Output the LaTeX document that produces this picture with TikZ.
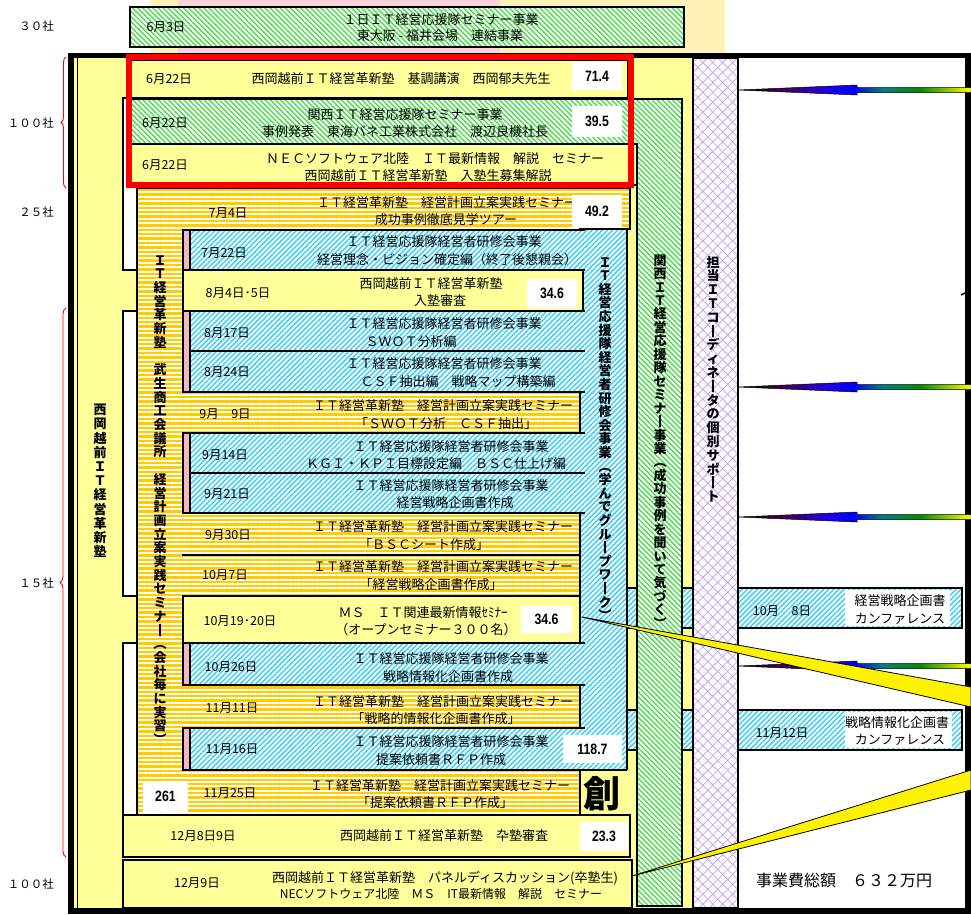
\documentclass[tikz,border=0pt]{standalone}
\usepackage{fontspec}
\setmainfont{Noto Sans CJK JP}
\newfontfamily\numfont{Liberation Sans}
\usetikzlibrary{patterns.meta,decorations.pathreplacing}
\definecolor{Yel}{HTML}{FFFF99}
\definecolor{Gold}{HTML}{FFCC00}
\definecolor{GrnL}{HTML}{4DDB4D}
\definecolor{CyanL}{HTML}{40CFF5}
\definecolor{Lav}{HTML}{C9A3F5}
\definecolor{PinkS}{HTML}{F2B5C4}
\definecolor{TopY}{HTML}{FFF2B8}
\definecolor{TopP}{HTML}{F8D3DA}
\definecolor{RedF}{HTML}{FF0000}
\pgfdeclarehorizontalshading{arrg}{100bp}{color(0bp)=(black); color(25bp)=(black); color(34bp)=(black!45!violet); color(44bp)=(blue!75!violet); color(50bp)=(blue); color(56bp)=(teal); color(64bp)=(green!55!black); color(75bp)=(yellow); color(100bp)=(yellow)}
\makeatletter
\newcommand\vtext[2]{\vbox{\offinterlineskip\@tfor\vc:=#2\do{\hbox to 1em{\hss\vrule height .88em depth .12em width 0pt\vc\hss}\vskip\dimexpr#1-1em\relax}}}
\makeatother
\begin{document}
\begin{tikzpicture}[x=1pt,y=-1pt,
  bx/.style={draw=black,line width=1.1pt},
  jt/.style={font=\fontsize{13}{17}\selectfont,inner sep=0pt},
  jts/.style={font=\fontsize{12}{16}\selectfont,inner sep=0pt},
  dt/.style={font=\fontsize{12.5}{15}\selectfont,inner sep=0pt},
  lbl/.style={font=\fontsize{11.5}{14}\selectfont,inner sep=0pt,anchor=east},
  vt/.style={font=\fontsize{13}{13}\selectfont\bfseries,inner sep=0pt,anchor=north},
  val/.style={fill=white,inner sep=0pt,font=\numfont\bfseries\fontsize{15}{15}\selectfont},
  ghatch/.style={preaction={fill=white},pattern={Lines[angle=-45,distance=3.6pt,line width=1.4pt]},pattern color=GrnL},
  chatch/.style={preaction={fill=white},pattern={Lines[angle=45,distance=3.6pt,line width=1.5pt]},pattern color=CyanL},
  ostripe/.style={preaction={fill=Gold},pattern={Lines[angle=0,distance=4.4pt,line width=1.9pt]},pattern color=white},
  lav/.style={preaction={fill=white},preaction={pattern={Lines[angle=45,distance=7pt,line width=0.8pt]},pattern color=Lav},pattern={Lines[angle=-45,distance=7pt,line width=0.8pt]},pattern color=Lav},
  wedge/.style={fill=yellow,draw=black,line width=0.8pt,line join=round}
]
\useasboundingbox (0,0) rectangle (971,914);
% ---------- top band
\fill[TopY] (150,0) rectangle (725,53);
\fill[TopP] (178,0) rectangle (500,53);
\path[ghatch,bx] (130,7) rectangle (684,47);
\node[dt] (t0) at (166,27) {6月3日};
\node[jt] (t1) at (441,20) {１日ＩＴ経営応援隊セミナー事業};
\node[jt] (t2) at (440,36) {東大阪 - 福井会場　連結事業};
% ---------- panels
\fill[Yel] (74,58) rectangle (693,908);
\fill[white] (738,58) rectangle (966,908);
\path[chatch,bx] (627,588) rectangle (962,628);
\path[chatch,bx] (627,710) rectangle (962,750);
\fill[white] (845,590) rectangle (950,626);
\fill[white] (845,712) rectangle (952,748);
\path[lav,bx] (693,58) rectangle (738,908);
% white strips
\path[fill=white,bx] (123,98) rectangle (137,270);
\path[fill=white,bx] (123,311) rectangle (137,596);
\path[fill=white,bx] (123,643) rectangle (137,815);
% orange base
\path[ostripe,bx] (137,188) -- (630,188) -- (630,229) -- (580,229) -- (580,815) -- (137,815) -- cycle;
% cyan column
\path[chatch] (580,229) rectangle (627,768);
\draw[bx] (580,229) -- (630,229);
% cyan boxes
\foreach \ya/\yb in {230/270,311/351,351/392,433/473,473/513,643/685}{
  \path[chatch] (190,\ya) rectangle (627,\yb);
  \draw[bx] (585,\ya) -- (190,\ya) -- (190,\yb) -- (585,\yb);
}
\path[chatch] (190,728) rectangle (627,770);
\draw[bx] (585,728) -- (190,728) -- (190,770) -- (627,770);
\draw[bx] (627,229) -- (627,770);
\foreach \ya/\yb in {230/270,311/392,433/513,643/685,728/770}
  \path[fill=PinkS,bx] (183,\ya) rectangle (190,\yb);
% orange rows
\foreach \ya/\yb in {392/433,513/555,555/596,685/728}
  \draw[bx] (183,\ya) -- (580,\ya) -- (580,\yb) -- (183,\yb);
\draw[bx] (183,770) -- (580,770) -- (580,815);
\draw[line width=2.5pt] (182,555) -- (580,555);
% yellow boxes
\path[fill=Yel,bx] (183,270) rectangle (583,311);
\path[fill=Yel,bx] (183,596) rectangle (580,643);
\path[fill=Yel,bx] (130,60) rectangle (628,98);
\path[ghatch,bx] (130,99) -- (682,99) -- (682,906) -- (637,906) -- (637,144) -- (130,144) -- cycle;
\path[fill=Yel,bx] (130,144) rectangle (637,185);
\path[fill=Yel,bx] (123,815) rectangle (630,857);
\path[fill=Yel,bx] (123,860) rectangle (632,908);
% big character
\begin{scope}
\clip (583,769) rectangle (627,815);
\node[font=\bfseries\fontsize{37}{37}\selectfont,inner sep=0pt] (sou) at (602,794) {創};
\end{scope}
% ---------- frame
\draw[line width=5.5pt] (71,55.5) rectangle (968,911);
\draw[line width=0.8pt] (77,58) -- (77,908);
% ---------- vertical texts
\node[vt] (vl) at (100,403) {\vtext{14.2pt}{西岡越前ＩＴ経営革新塾}};
\node[vt] (vo) at (160,253.5) {\vtext{13.7pt}{ＩＴ経営革新塾　武生商工会議所　経営計画立案実践セミナ丨︵会社毎に実習︶}};
\node[vt] (vc) at (605,255.5) {\vtext{13.6pt}{ＩＴ経営応援隊経営者研修会事業︵学んでグル丨プワ丨ク︶}};
\node[vt] (vg) at (660,253.5) {\vtext{13.45pt}{関西ＩＴ経営応援隊セミナ丨事業︵成功事例を聞いて気づく︶}};
\node[vt] (vv) at (713,255.5) {\vtext{13.8pt}{担当ＩＴコ丨ディネ丨タの個別サポ丨ト}};
% ---------- row texts
\node[dt] (ad) at (169,79) {6月22日};
\node[jt] (a1) at (401,79) {西岡越前ＩＴ経営革新塾　基調講演　西岡郁夫先生};
\node[dt] (bd) at (165,123) {6月22日};
\node[jt] (b1) at (405,115) {関西ＩＴ経営応援隊セミナー事業};
\node[jt] (b2) at (405,132) {事例発表　東海バネ工業株式会社　渡辺良機社長};
\node[dt] (cd) at (165,165) {6月22日};
\node[jt] (c1) at (435,159) {ＮＥＣソフトウェア北陸　ＩＴ最新情報　解説　セミナー};
\node[jt] (c2) at (428,176) {西岡越前ＩＴ経営革新塾　入塾生募集解説};
\node[dt] (dd) at (228,213) {7月4日};
\node[jt] (d1) at (447,203) {ＩＴ経営革新塾　経営計画立案実践セミナー};
\node[jt] (d2) at (446,220) {成功事例徹底見学ツアー};
\node[dt] (ed) at (224,253) {7月22日};
\node[jt] (e1) at (444,242) {ＩＴ経営応援隊経営者研修会事業};
\node[jt] (e2) at (447,260) {経営理念・ビジョン確定編（終了後懇親会）};
\node[dt] (fd) at (238,293) {8月4日･5日};
\node[jt] (f1) at (431,284) {西岡越前ＩＴ経営革新塾};
\node[jt] (f2) at (440,301) {入塾審査};
\node[dt] (gd) at (227,333) {8月17日};
\node[jt] (g1) at (444,324) {ＩＴ経営応援隊経営者研修会事業};
\node[jt] (g2) at (411,342) {ＳＷＯＴ分析編};
\node[dt] (hd) at (227,372) {8月24日};
\node[jt] (h1) at (444,364) {ＩＴ経営応援隊経営者研修会事業};
\node[jt] (h2) at (458,382) {ＣＳＦ抽出編　戦略マップ構築編};
\node[dt] (id) at (225,414) {9月　9日};
\node[jt] (i1) at (443,406) {ＩＴ経営革新塾　経営計画立案実践セミナー};
\node[jt] (i2) at (446,424) {「ＳＷＯＴ分析　ＣＳＦ抽出」};
\node[dt] (jd) at (225,455) {9月14日};
\node[jt] (j1) at (451,447) {ＩＴ経営応援隊経営者研修会事業};
\node[jt] (j2) at (436,464) {ＫＧＩ・ＫＰＩ目標設定編　ＢＳＣ仕上げ編};
\node[dt] (kd) at (227,494) {9月21日};
\node[jt] (k1) at (451,486) {ＩＴ経営応援隊経営者研修会事業};
\node[jt] (k2) at (455,503) {経営戦略企画書作成};
\node[dt] (ld) at (228,535) {9月30日};
\node[jt] (l1) at (443,527) {ＩＴ経営革新塾　経営計画立案実践セミナー};
\node[jt] (l2) at (424,545) {「ＢＳＣシート作成」};
\node[dt] (md) at (225,575) {10月7日};
\node[jt] (m1) at (443,567) {ＩＴ経営革新塾　経営計画立案実践セミナー};
\node[jt] (m2) at (431,585) {「経営戦略企画書作成」};
\node[dt] (nd) at (240,621) {10月19･20日};
\node[jt] (n1) at (423,613) {ＭＳ　ＩＴ関連最新情報ｾﾐﾅｰ};
\node[jt] (n2) at (426,630) {（オープンセミナー３００名）};
\node[dt] (od) at (231,667) {10月26日};
\node[jt] (o1) at (451,659) {ＩＴ経営応援隊経営者研修会事業};
\node[jt] (o2) at (448,677) {戦略情報化企画書作成};
\node[dt] (pd) at (232,708) {11月11日};
\node[jt] (p1) at (443,702) {ＩＴ経営革新塾　経営計画立案実践セミナー};
\node[jt] (p2) at (436,719) {「戦略的情報化企画書作成」};
\node[dt] (qd) at (232,749) {11月16日};
\node[jt] (q1) at (451,742) {ＩＴ経営応援隊経営者研修会事業};
\node[jt] (q2) at (441,760) {提案依頼書ＲＦＰ作成};
\node[dt] (rd) at (230,793) {11月25日};
\node[jt] (r1) at (440,786) {ＩＴ経営革新塾　経営計画立案実践セミナー};
\node[jt] (r2) at (435,803) {「提案依頼書ＲＦＰ作成」};
\node[dt] (sd) at (203,836) {12月8日9日};
\node[jt] (s1) at (444,836) {西岡越前ＩＴ経営革新塾　卆塾審査};
\node[dt] (td) at (197,883) {12月9日};
\node[jt] (u1) at (445,878) {西岡越前ＩＴ経営革新塾　パネルディスカッション(卒塾生)};
\node[jts] (u2) at (441,894) {NECソフトウェア北陸　ＭＳ　IT最新情報　解説　セミナー};
% conference texts
\node[dt] (cf1d) at (782,611) {10月　8日};
\node[jt] (cf1a) at (900,601) {経営戦略企画書};
\node[jt] (cf1b) at (900,619) {カンファレンス};
\node[dt] (cf2d) at (782,733) {11月12日};
\node[jt] (cf2a) at (897,723) {戦略情報化企画書};
\node[jt] (cf2b) at (900,740) {カンファレンス};
\node[font=\fontsize{16}{18}\selectfont,inner sep=0pt] (tot) at (844,880) {事業費総額　６３２万円};
% ---------- values
\node[val,minimum width=50pt,minimum height=28pt] (v1) at (597,76) {\scalebox{0.82}[1]{71.4}};
\node[val,minimum width=50pt,minimum height=31pt] (v2) at (597,121.5) {\scalebox{0.82}[1]{39.5}};
\node[val,minimum width=50pt,minimum height=32pt] (v3) at (597,211) {\scalebox{0.82}[1]{49.2}};
\node[val,minimum width=50pt,minimum height=29pt] (v4) at (552,293.5) {\scalebox{0.82}[1]{34.6}};
\node[val,minimum width=51pt,minimum height=27pt] (v5) at (546.5,619.5) {\scalebox{0.82}[1]{34.6}};
\node[val,minimum width=59pt,minimum height=28pt] (v6) at (592.5,749) {\scalebox{0.82}[1]{118.7}};
\node[val,minimum width=45pt,minimum height=31pt] (v7) at (165.5,796.5) {\scalebox{0.82}[1]{261}};
\node[val,minimum width=48pt,minimum height=29pt] (v8) at (604,836.5) {\scalebox{0.82}[1]{23.3}};
% ---------- arrows
\foreach \yy in {90,387,517,666}
  \shadedraw[shading=arrg,draw=black,line width=0.5pt] (738,\yy) -- (857,\yy-5) -- (857,\yy-2.5) -- (971,\yy-2.5) -- (971,\yy+2.5) -- (857,\yy+2.5) -- (857,\yy+5) -- cycle;
\draw[line width=1.5pt] (961,295) -- (967,292);
% ---------- wedges
\coordinate (w1) at (582,617);
\coordinate (w2) at (632,876);
\path[wedge] (w1) -- (971,687) -- (971,707) -- cycle;
\path[wedge] (w2) -- (971,770) -- (971,790) -- cycle;
% ---------- red rectangle
\draw[RedF,line width=6pt] (129,57) rectangle (630.5,185);
% ---------- left labels and braces
\node[lbl] (l30) at (54,26) {３０社};
\node[lbl] (l100a) at (54,123) {１００社};
\node[lbl] (l25) at (54,212) {２５社};
\node[lbl] (l15) at (54,583) {１５社};
\node[lbl] (l100b) at (54,884) {１００社};
\draw[red,line width=0.9pt,decorate,decoration={brace,amplitude=5pt}] (66,188) -- (66,57);
\draw[red,line width=0.9pt,decorate,decoration={brace,amplitude=6pt}] (66,857) -- (66,308);
\end{tikzpicture}
\end{document}
